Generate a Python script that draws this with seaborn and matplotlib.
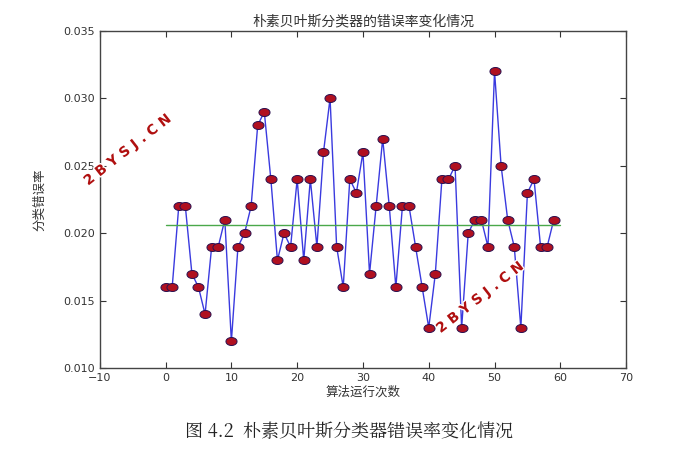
"""Naive Bayes classifier error rate over repeated runs."""

import matplotlib
matplotlib.use("Agg")
import matplotlib.pyplot as plt
import matplotlib.patheffects as pe
import numpy as np
import pandas as pd
import seaborn as sns

RUNS = list(range(60))
ERROR_RATE = [
    0.016, 0.016, 0.022, 0.022, 0.017, 0.016, 0.014, 0.019, 0.019, 0.021,
    0.012, 0.019, 0.020, 0.022, 0.028, 0.029, 0.024, 0.018, 0.020, 0.019,
    0.024, 0.018, 0.024, 0.019, 0.026, 0.030, 0.019, 0.016, 0.024, 0.023,
    0.026, 0.017, 0.022, 0.027, 0.022, 0.016, 0.022, 0.022, 0.019, 0.016,
    0.013, 0.017, 0.024, 0.024, 0.025, 0.013, 0.020, 0.021, 0.021, 0.019,
    0.032, 0.025, 0.021, 0.019, 0.013, 0.023, 0.024, 0.019, 0.019, 0.021,
]
MEAN_X = [0, 60]

sns.set_style("ticks")
plt.rcParams["font.family"] = ["Noto Sans CJK SC", "DejaVu Sans"]

df = pd.DataFrame({"run": RUNS, "error": ERROR_RATE})
mean_err = float(np.mean(ERROR_RATE))
mean_df = pd.DataFrame({"run": MEAN_X, "error": [mean_err, mean_err]})

fig = plt.figure(figsize=(6.98, 4.54), dpi=100)
ax = fig.add_axes([0.143, 0.189, 0.754, 0.743])

# slightly flattened circle, like the stretched original
theta = np.linspace(0, 2 * np.pi, 40)
oval = np.column_stack([np.cos(theta), 0.72 * np.sin(theta)])

sns.lineplot(data=df, x="run", y="error", ax=ax, color="#3a3adf", linewidth=1.0,
             marker=oval, markersize=8, markerfacecolor="#b01020",
             markeredgecolor="#2a1050", markeredgewidth=0.7)
sns.lineplot(data=mean_df, x="run", y="error", ax=ax, color="#4aa84a", linewidth=1.0)

ax.set_xlim(-10, 70)
ax.set_ylim(0.010, 0.035)
ax.set_xticks(range(-10, 71, 10))
ax.set_yticks(np.arange(0.010, 0.0351, 0.005))
ax.yaxis.set_major_formatter(matplotlib.ticker.FormatStrFormatter("%.3f"))
ax.tick_params(direction="in", top=True, right=True, labelsize=8, length=4,
               colors="#333333")
for sp in ax.spines.values():
    sp.set_color("#444444")
    sp.set_linewidth(1.0)
for lab in ax.get_xticklabels() + ax.get_yticklabels():
    lab.set_family("DejaVu Sans")

ax.set_title("朴素贝叶斯分类器的错误率变化情况", fontsize=10, color="#333333", pad=4)
ax.set_xlabel("算法运行次数", fontsize=9, color="#333333", labelpad=2)
ax.set_ylabel("分类错误率", fontsize=9, color="#333333", labelpad=12)

fig.text(0.50, 0.048, "图 4.2  朴素贝叶斯分类器错误率变化情况", ha="center",
         va="center", fontsize=13, color="#222222",
         family=["Noto Serif CJK SC", "Noto Sans CJK SC", "DejaVu Sans"])

# watermarks
wm = dict(rotation=38, ha="center", va="center", fontsize=10, fontweight="bold",
          color="#b01010", family="DejaVu Sans",
          path_effects=[pe.withStroke(linewidth=2, foreground="white")])
fig.text(0.183, 0.67, "2 B Y S J . C N", **wm)
fig.text(0.688, 0.345, "2 B Y S J . C N", **wm)

fig.savefig("out.png", dpi=100)
